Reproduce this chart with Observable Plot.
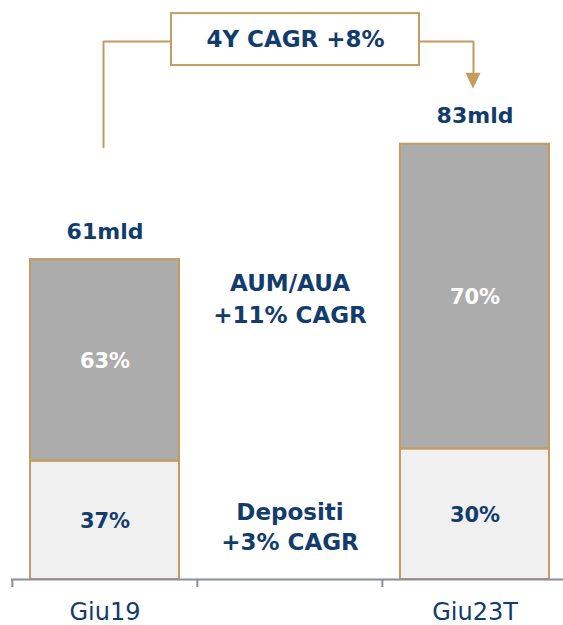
<!DOCTYPE html>
<html><head><meta charset="utf-8">
<script src="https://cdn.jsdelivr.net/npm/d3@7"></script>
<script src="https://cdn.jsdelivr.net/npm/@observablehq/plot@0.6"></script>
<style>body{margin:0;background:#fff;}</style>
</head><body><div id="chart"></div>
<script>
// ---- data ----
const categories = ["Giu19", "Giu23T"];
const totals = [61, 83];               // mld
const depositShares = [37, 30];        // %
const aumShares = [63, 70];            // %
const totalLabels = ["61mld", "83mld"];
const xDomain = ["Giu19", " ", "Giu23T"];
const growthLabels = ["AUM/AUA\n+11% CAGR", "Depositi\n+3% CAGR"];
const cagrLabel = "4Y CAGR +8%";

// ---- styles ----
const NAVY = "#123c6b", GOLD = "#c49c5e", GRAY = "#acacac", LIGHT = "#f0f0f0", AXIS = "#8a8d9b";
const W = 563, H = 625;

const rows = [];
categories.forEach((c, i) => {
  const dep = totals[i] * depositShares[i] / 100;
  rows.push({cat: c, seg: "Depositi", y1: 0, y2: dep, share: depositShares[i]});
  rows.push({cat: c, seg: "AUM/AUA", y1: dep, y2: totals[i], share: aumShares[i]});
});
const totalsData = categories.map((c, i) => ({cat: c, total: totals[i], label: totalLabels[i]}));
const mid = xDomain[1];
const aum23 = rows.find(r => r.cat === categories[1] && r.seg === "AUM/AUA");
const dep19 = rows.find(r => r.cat === categories[0] && r.seg === "Depositi");
const annotAum = [{cat: mid, y: (aum23.y1 + aum23.y2) / 2, text: growthLabels[0]}];
const annotDep = [{cat: mid, y: (dep19.y1 + dep19.y2) / 2, text: growthLabels[1]}];

// annotation layout (y in data units)
const bracketTop = 102.6, leftEnd = 82.4, arrowBase = 96.7, arrowMid = 95.1;
const boxLo = 98.0, boxHi = 107.9;
const bracket = [
  {x: categories[0], y: leftEnd}, {x: categories[0], y: bracketTop},
  {x: categories[1], y: bracketTop}, {x: categories[1], y: arrowBase}
];
const arrowSymbol = {draw(ctx) { ctx.moveTo(-7.5, -8); ctx.lineTo(7.5, -8); ctx.lineTo(0, 8); ctx.closePath(); }};
const bw = (567 - 11) / 3;

const chart = Plot.plot({
  width: W, height: H,
  marginTop: 0, marginBottom: 46, marginLeft: 11, marginRight: 0,
  style: {fontFamily: "DejaVu Sans", background: "white", overflow: "visible"},
  x: {type: "band", domain: xDomain, range: [11, 567], padding: 0, axis: null},
  y: {domain: [0, 110.4], axis: null},
  color: {domain: ["Depositi", "AUM/AUA"], range: [LIGHT, GRAY]},
  marks: [
    // bracket connector
    Plot.line(bracket, {x: "x", y: "y", stroke: GOLD, strokeWidth: 2, curve: "linear", dx: -1.5}),
    Plot.dot([{x: categories[1], y: arrowMid}], {x: "x", y: "y", symbol: arrowSymbol, fill: GOLD, stroke: "none", r: 8, dx: -2}),
    Plot.barY([{cat: mid}], {x: "cat", y1: boxLo, y2: boxHi, insetLeft: -26, insetRight: -37, fill: "white", stroke: GOLD, strokeWidth: 2}),
    Plot.text([cagrLabel], {x: () => mid, y: (boxLo + boxHi) / 2, text: d => d, dx: 5.5, fill: NAVY, fontWeight: "bold", fontSize: 23}),
    // bars
    Plot.barY(rows, {x: "cat", y1: "y1", y2: "y2", fill: "seg", stroke: GOLD, strokeWidth: 2, insetLeft: 18, insetRight: 18}),
    // segment labels
    Plot.text(rows, {x: "cat", y: d => (d.y1 + d.y2) / 2, text: d => d.share + "%", fill: d => d.seg === "AUM/AUA" ? "white" : NAVY, fontWeight: "bold", fontSize: 21, dy: 1}),
    // totals
    Plot.text(totalsData, {x: "cat", y: "total", text: "label", dy: -28, fill: NAVY, fontWeight: "bold", fontSize: 22}),
    // growth annotations
    Plot.text(annotAum, {x: "cat", y: "y", text: "text", fill: NAVY, fontWeight: "bold", fontSize: 23, lineHeight: 1.38}),
    Plot.text(annotDep, {x: "cat", y: "y", text: "text", dy: 5, fill: NAVY, fontWeight: "bold", fontSize: 23, lineHeight: 1.3}),
    // axis
    Plot.ruleY([0], {stroke: AXIS, strokeWidth: 2}),
    Plot.axisX({tickSize: 8, tickFormat: () => "", dx: -bw / 2, stroke: AXIS, strokeWidth: 2}),
    Plot.axisX({tickSize: 0, tickPadding: 23, fontSize: 24, fill: NAVY, tickFormat: d => d.trim()})
  ]
});
document.getElementById("chart").appendChild(chart);
</script>
</body></html>
